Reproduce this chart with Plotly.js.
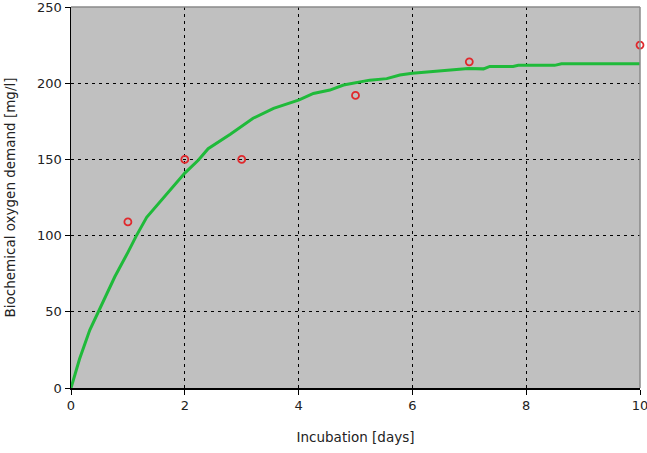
<!DOCTYPE html>
<html>
<head>
<meta charset="utf-8">
<script src="https://cdn.plot.ly/plotly-3.0.1.min.js"></script>
<style>html,body{margin:0;padding:0;background:#fff;}#chart{width:647px;height:453px;}</style>
</head>
<body>
<div id="chart"></div>
<script>
// Measured BOD values (red circles)
var measDays = [1, 2, 3, 5, 7, 10];
var measBOD = [109, 150, 150, 192, 214, 225];

// Fitted curve (green line)
var curveDays = [0, 0.15, 0.33, 0.48, 0.77, 1.0, 1.15, 1.33, 1.65, 2.0, 2.24, 2.41, 2.8, 3.2, 3.56, 4.01, 4.26, 4.55, 4.79, 5.25, 5.55, 5.78, 6.0, 6.5, 6.98, 7.25, 7.36, 7.77, 7.86, 8.5, 8.62, 10];
var curveBOD = [0, 19, 38, 50, 73, 89, 100, 112, 125.5, 141, 149.6, 157, 166.5, 177, 183.5, 189, 193.3, 195.5, 198.8, 202, 203, 205.4, 206.5, 208.2, 209.7, 209.4, 211, 211, 211.7, 211.7, 212.8, 212.8];

var xTicks = [0, 2, 4, 6, 8, 10];
var yTicks = [0, 50, 100, 150, 200, 250];

var fam = 'DejaVu Sans, sans-serif';
var tickFont = {family: fam, size: 13, color: '#222'};
var titleFont = {family: fam, size: 13.5, color: '#222'};

var traces = [
  {
    x: curveDays, y: curveBOD, type: 'scatter', mode: 'lines',
    line: {color: '#1fba3a', width: 3}, hoverinfo: 'skip', showlegend: false
  },
  {
    x: measDays, y: measBOD, type: 'scatter', mode: 'markers',
    marker: {symbol: 'circle-open', size: 7, color: '#e0282c', line: {width: 1.8, color: '#e0282c'}},
    showlegend: false, cliponaxis: false
  }
];

var layout = {
  width: 647, height: 453,
  margin: {l: 71, r: 7, t: 7, b: 65},
  paper_bgcolor: '#ffffff',
  plot_bgcolor: '#c0c0c0',
  font: tickFont,
  showlegend: false,
  xaxis: {
    range: [0, 10], tickvals: xTicks, ticktext: xTicks.map(String),
    showline: true, linecolor: '#000', linewidth: 1.5,
    ticks: 'outside', ticklen: 5, tickcolor: '#000', tickwidth: 1,
    showgrid: true, gridcolor: '#000', gridwidth: 1, griddash: '3px,4px',
    zeroline: false, fixedrange: true, ticklabeloverflow: 'allow',
    tickfont: tickFont,
    title: {text: 'Incubation [days]', font: titleFont, standoff: 20}
  },
  yaxis: {
    range: [0, 250], tickvals: yTicks, ticktext: yTicks.map(String),
    showline: true, linecolor: '#000', linewidth: 1.5,
    ticks: 'outside', ticklen: 5, tickcolor: '#000', tickwidth: 1,
    showgrid: true, gridcolor: '#000', gridwidth: 1, griddash: '3px,4px',
    zeroline: false, fixedrange: true, ticklabeloverflow: 'allow',
    tickfont: tickFont,
    title: {text: 'Biochemical oxygen demand [mg/l]', font: titleFont, standoff: 18}
  },
  shapes: [
    {type: 'line', xref: 'paper', yref: 'paper', x0: 0, x1: 1, y0: 1, y1: 1, line: {color: '#8a8a8a', width: 1.5}, layer: 'above'},
    {type: 'line', xref: 'paper', yref: 'paper', x0: 1, x1: 1, y0: 0, y1: 1, line: {color: '#8a8a8a', width: 1.5}, layer: 'above'}
  ]
};

Plotly.newPlot('chart', traces, layout, {displayModeBar: false, staticPlot: true});
</script>
</body>
</html>
